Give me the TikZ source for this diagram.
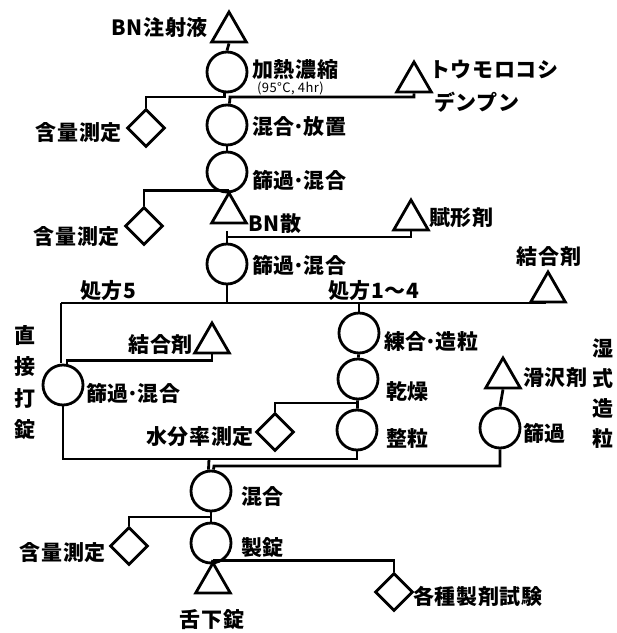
\documentclass[tikz,border=0pt]{standalone}
\usepackage{fontspec}
\usetikzlibrary{shapes.geometric,calc}
\newfontfamily\jp[LetterSpace=3]{Noto Sans CJK JP}
\newcommand{\md}{\makebox[0.42em]{·}}
\begin{document}
\begin{tikzpicture}[x=1pt,y=-1pt,
  lw/.style={line width=2.8pt},
  proc/.style={circle,draw,lw,minimum size=40pt,inner sep=0pt},
  tri/.style={regular polygon,regular polygon sides=3,draw,lw,minimum size=40pt,inner sep=0pt},
  dia/.style={diamond,draw,lw,minimum size=38pt,inner sep=0pt},
  conn/.style={lw},
  lab/.style={font=\jp\bfseries\fontsize{21}{22}\selectfont,inner sep=0pt},
  small/.style={font=\jp\fontsize{13}{14}\selectfont,inner sep=0pt}]
\useasboundingbox (0,0) rectangle (617,633);
% triangles (center = apex + 20)
\node[tri] (T1) at (229,32) {};
\node[tri] (T2) at (414,82) {};
\node[tri] (T3) at (229,213) {};
\node[tri] (T4) at (411,220) {};
\node[tri] (T5) at (548,292) {};
\node[tri] (T6) at (212,343) {};
\node[tri] (T7) at (503,378) {};
\node[tri] (T8) at (213,583) {};
% circles
\node[proc] (C1) at (227,72) {};
\node[proc] (C2) at (227,125) {};
\node[proc] (C3) at (227,172) {};
\node[proc] (C4) at (227,264) {};
\node[proc] (C5) at (63,385) {};
\node[proc] (C6) at (359,333) {};
\node[proc] (C7) at (358,379) {};
\node[proc] (C8) at (357,430) {};
\node[proc] (C9) at (500,428) {};
\node[proc] (C10) at (211,491) {};
\node[proc] (C11) at (211,543) {};
% diamonds
\node[dia] (D1) at (146,128) {};
\node[dia] (D2) at (144,226) {};
\node[dia] (D3) at (275,432) {};
\node[dia] (D4) at (129,546) {};
\node[dia] (D5) at (394,592) {};
% junction coordinates
\coordinate (jA) at (146,97);
\coordinate (jB) at (230,97);
\coordinate (jC) at (228,237);
\coordinate (jL) at (61,303);
\coordinate (jR) at (546,303);
\coordinate (jD) at (357,403);
\coordinate (jE) at (209,459);
\coordinate (jF) at (214,466);
\coordinate (jG) at (211,517);
% connectors
\draw[conn] (T1.south) -- (C1.north);
\draw[conn] ([xshift=-2.5pt]C1.south) |- (jA) -- (D1.north);
\draw[conn] (T2.south) |- (jB) -- ([xshift=2.5pt]C2.north);
\draw[conn] (C2) -- (C3);
\draw[conn] (C3.south) -- (T3.corner 1);
\draw[conn] (T3.corner 1) -| (D2.north);
\draw[conn] (T4.south) |- (jC);
\draw[conn] (C4.north) -- ++(0,-12);
\draw[conn] (C4.south) -- (C4.south |- jL);
\draw[conn] (jL) -- (jR);
\draw[conn] (jL) -- ++(0,60);
\draw[conn] (T6.south) |- ($(C5.north)+(4,-3)$) -- ($(C5.north)+(4,0)$);
\draw[conn] (C6.north |- jL) -- (C6.north);
\draw[conn] (C6) -- (C7);
\draw[conn] (C7) -- (C8);
\draw[conn] (jD) -| (D3.north);
\draw[conn] (C5.south) |- (C8.south |- jE) -- (C8.south);
\draw[conn] (jE) -- ([xshift=-2.5pt]C10.north);
\draw[conn] (C9.south) |- (jF) -- ([xshift=2.5pt]C10.north);
\draw[conn] (T7.south) -- (C9.north);
\draw[conn] (C10) -- (C11);
\draw[conn] (jG) -| (D4.north);
\draw[conn] (C11.south) -- (T8.corner 1);
\draw[conn] (T8.corner 1) -| (D5.north);
% labels
\node[lab,anchor=east] (l1) at (208,28) {BN注射液};
\node[lab,anchor=west] (l2) at (252,70) {加熱濃縮};
\node[small,anchor=west] (l3) at (257,88) {(95°C, 4hr)};
\node[lab,anchor=west] (l4) at (429,70) {トウモロコシ};
\node[lab,anchor=west] (l5) at (434,102) {デンプン};
\node[lab,anchor=east] (l6) at (122,133) {含量測定};
\node[lab,anchor=west] (l7) at (252,127) {混合\md 放置};
\node[lab,anchor=west] (l8) at (252,180) {篩過\md 混合};
\node[lab,anchor=east] (l9) at (120,237) {含量測定};
\node[lab,anchor=west] (l10) at (248,224) {BN散};
\node[lab,anchor=west] (l11) at (429,218) {賦形剤};
\node[lab,anchor=west] (l12) at (252,265) {篩過\md 混合};
\node[lab,anchor=west] (l13) at (80,291) {処方5};
\node[lab,anchor=west] (l14) at (328,291) {処方1〜4};
\node[lab] (l15) at (549,257) {結合剤};
\node[lab,anchor=east] (l16) at (193,345) {結合剤};
\node[lab] (v1) at (25,335) {直};
\node[lab] (v2) at (25,367) {接};
\node[lab] (v3) at (25,398) {打};
\node[lab] (v4) at (25,430) {錠};
\node[lab,anchor=west] (l17) at (86,393) {篩過\md 混合};
\node[lab,anchor=west] (l18) at (384,342) {練合\md 造粒};
\node[lab,anchor=west] (l19) at (386,392) {乾燥};
\node[lab,anchor=east] (l20) at (254,437) {水分率測定};
\node[lab,anchor=west] (l21) at (386,438) {整粒};
\node[lab,anchor=west] (l22) at (523,378) {滑沢剤};
\node[lab,anchor=west] (l23) at (523,433) {篩過};
\node[lab] (w1) at (603,348) {湿};
\node[lab] (w2) at (603,378) {式};
\node[lab] (w3) at (603,408) {造};
\node[lab] (w4) at (603,438) {粒};
\node[lab,anchor=west] (l24) at (241,497) {混合};
\node[lab,anchor=east] (l25) at (106,553) {含量測定};
\node[lab,anchor=west] (l26) at (241,548) {製錠};
\node[lab] (l27) at (212,620) {舌下錠};
\node[lab,anchor=west] (l28) at (413,596) {各種製剤試験};
\end{tikzpicture}
\end{document}
